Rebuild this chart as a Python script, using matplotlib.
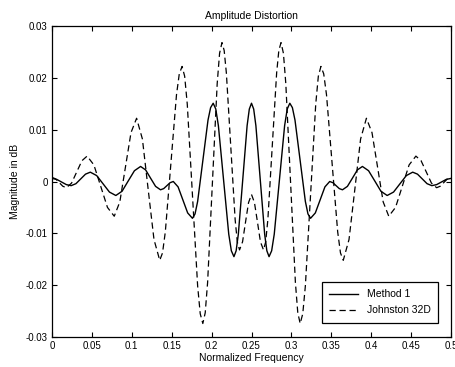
'''
Amplitude distortion of two QMF designs.
'''

import matplotlib
matplotlib.use('Agg')
import matplotlib.pyplot as plt

# Method 1 (solid)
freq_m1 = [0.000, 0.006, 0.012, 0.018,
           0.024, 0.030, 0.036, 0.042,
           0.048, 0.056, 0.064, 0.072,
           0.080, 0.0878, 0.0955, 0.1033,
           0.111, 0.1173, 0.1235, 0.1298,
           0.136, 0.140, 0.144, 0.148,
           0.152, 0.158, 0.164, 0.170,
           0.176, 0.17925, 0.1825, 0.189, 0.1955, 0.19875,
           0.202, 0.20525, 0.2085, 0.215, 0.2215, 0.22475,
           0.228, 0.23075, 0.2335, 0.239, 0.2445, 0.24725,
           0.250, 0.25275, 0.2555, 0.261, 0.2665, 0.26925,
           0.272, 0.27525, 0.2785, 0.285, 0.2915, 0.29475,
           0.298, 0.30125, 0.3045, 0.311, 0.3175, 0.32075,
           0.324, 0.330, 0.336, 0.342,
           0.348, 0.352, 0.356, 0.360,
           0.364, 0.3702, 0.3765, 0.3827,
           0.389, 0.3967, 0.4045, 0.4122,
           0.420, 0.428, 0.436, 0.444,
           0.452, 0.458, 0.464, 0.470,
           0.476, 0.482, 0.488, 0.494, 0.500]
mag_m1 = [0.0006, 0.0004, -0.0001, -0.0006,
          -0.0008, -0.00042, 0.0005, 0.00142,
          0.0018, 0.00114, -0.00045, -0.00204,
          -0.0027, -0.00188, 0.0001, 0.00208,
          0.0029, 0.00224, 0.00065, -0.00094,
          -0.0016, -0.00137, -0.0008, -0.00023,
          0.0000, -0.00104, -0.00355, -0.00606,
          -0.0071, -0.00625, -0.00385, 0.0040, 0.01185, 0.01425,
          0.0151, 0.01397, 0.01077, 0.0003, -0.01017, -0.01337,
          -0.0145, -0.01337, -0.01017, 0.0003, 0.01077, 0.01397,
          0.0151, 0.01397, 0.01077, 0.0003, -0.01017, -0.01337,
          -0.0145, -0.01337, -0.01017, 0.0003, 0.01077, 0.01397,
          0.0151, 0.01425, 0.01185, 0.0040, -0.00385, -0.00625,
          -0.0071, -0.00606, -0.00355, -0.00104,
          0.0000, -0.00023, -0.0008, -0.00137,
          -0.0016, -0.00094, 0.00065, 0.00224,
          0.0029, 0.00208, 0.0001, -0.00188,
          -0.0027, -0.00204, -0.00045, 0.00114,
          0.0018, 0.00142, 0.0005, -0.00042,
          -0.0008, -0.0006, -0.0001, 0.0004, 0.0006]

# Johnston 32D (dashed)
freq_j32 = [0.000, 0.0045, 0.009, 0.0135,
            0.018, 0.0245, 0.031, 0.0375,
            0.044, 0.0525, 0.061, 0.0695,
            0.078, 0.085, 0.092, 0.099,
            0.106, 0.1133, 0.1205, 0.1278,
            0.135, 0.1385, 0.142, 0.149, 0.156, 0.1595,
            0.163, 0.16625, 0.1695, 0.176, 0.1825, 0.18575,
            0.189, 0.192, 0.195, 0.201, 0.207, 0.210,
            0.213, 0.21575, 0.2185, 0.224, 0.2295, 0.23225,
            0.235, 0.2388, 0.2425, 0.2463,
            0.250, 0.2537, 0.2575, 0.2612,
            0.265, 0.26775, 0.2705, 0.276, 0.2815, 0.28425,
            0.287, 0.290, 0.293, 0.299, 0.305, 0.308,
            0.311, 0.31425, 0.3175, 0.324, 0.3305, 0.33375,
            0.337, 0.3405, 0.344, 0.351, 0.358, 0.3615,
            0.365, 0.3722, 0.3795, 0.3867,
            0.394, 0.401, 0.408, 0.415,
            0.422, 0.4305, 0.439, 0.4475,
            0.456, 0.4625, 0.469, 0.4755,
            0.482, 0.4865, 0.491, 0.4955, 0.500]
mag_j32 = [0.0008, 0.00051, -0.0002, -0.00091,
           -0.0012, -0.00031, 0.00185, 0.00401,
           0.0049, 0.0032, -0.0009, -0.0050,
           -0.0067, -0.00393, 0.00275, 0.00943,
           0.0122, 0.00819, -0.0015, -0.01119,
           -0.0152, -0.01378, -0.00972, 0.0035, 0.01672, 0.02077,
           0.0222, 0.02031, 0.01494, -0.0026, -0.02014, -0.02551,
           -0.0274, -0.02533, -0.01947, -0.0003, 0.01887, 0.02474,
           0.0268, 0.02528, 0.02094, 0.0068, -0.00734, -0.01168,
           -0.0132, -0.01163, -0.00785, -0.00407,
           -0.0025, -0.00407, -0.00785, -0.01163,
           -0.0132, -0.01168, -0.00734, 0.0068, 0.02094, 0.02528,
           0.0268, 0.02474, 0.01887, -0.0003, -0.01947, -0.02533,
           -0.0274, -0.02551, -0.02014, -0.0026, 0.01494, 0.02031,
           0.0222, 0.02077, 0.01672, 0.0035, -0.00972, -0.01378,
           -0.0152, -0.01119, -0.0015, 0.00819,
           0.0122, 0.00943, 0.00275, -0.00393,
           -0.0067, -0.0050, -0.0009, 0.0032,
           0.0049, 0.00401, 0.00185, -0.00031,
           -0.0012, -0.00091, -0.0002, 0.00051, 0.0008]

xticks = [0, 0.05, 0.1, 0.15, 0.2, 0.25, 0.3, 0.35, 0.4, 0.45, 0.5]
xtick_labels = ['0', '0.05', '0.1', '0.15', '0.2', '0.25', '0.3', '0.35', '0.4', '0.45', '0.5']
yticks = [-0.03, -0.02, -0.01, 0, 0.01, 0.02, 0.03]
ytick_labels = ['-0.03', '-0.02', '-0.01', '0', '0.01', '0.02', '0.03']

plt.rcParams['font.family'] = ['Liberation Sans', 'DejaVu Sans']

fig = plt.figure(figsize=(4.55, 3.67), dpi=100)
ax = fig.add_axes([52 / 455, 30 / 367, 399 / 455, 311 / 367])

ax.plot(freq_m1, mag_m1, color='black', linewidth=1.0, label='Method 1')
ax.plot(freq_j32, mag_j32, color='black', linewidth=0.9, linestyle=(0, (5, 3)),
        label='Johnston 32D')

ax.set_xlim(0, 0.5)
ax.set_ylim(-0.03, 0.03)
ax.set_xticks(xticks)
ax.set_xticklabels(xtick_labels)
ax.set_yticks(yticks)
ax.set_yticklabels(ytick_labels)
ax.tick_params(direction='in', length=3.5, width=0.8, top=True, right=True,
               labelsize=7, pad=3)
for s in ax.spines.values():
    s.set_linewidth(0.9)

ax.set_title('Amplitude Distortion', fontsize=7.5, pad=5)
ax.set_xlabel('Normalized Frequency', fontsize=7.5, labelpad=1)
ax.set_ylabel('Magnitude in dB', fontsize=7.5, labelpad=4)

leg = ax.legend(loc='lower right', bbox_to_anchor=(0.98, 0.029), fontsize=7.5,
                fancybox=False, edgecolor='black', framealpha=1,
                handlelength=2.8, borderpad=0.7, labelspacing=0.6)
leg.get_frame().set_linewidth(0.9)

fig.savefig('out.png', dpi=100)
